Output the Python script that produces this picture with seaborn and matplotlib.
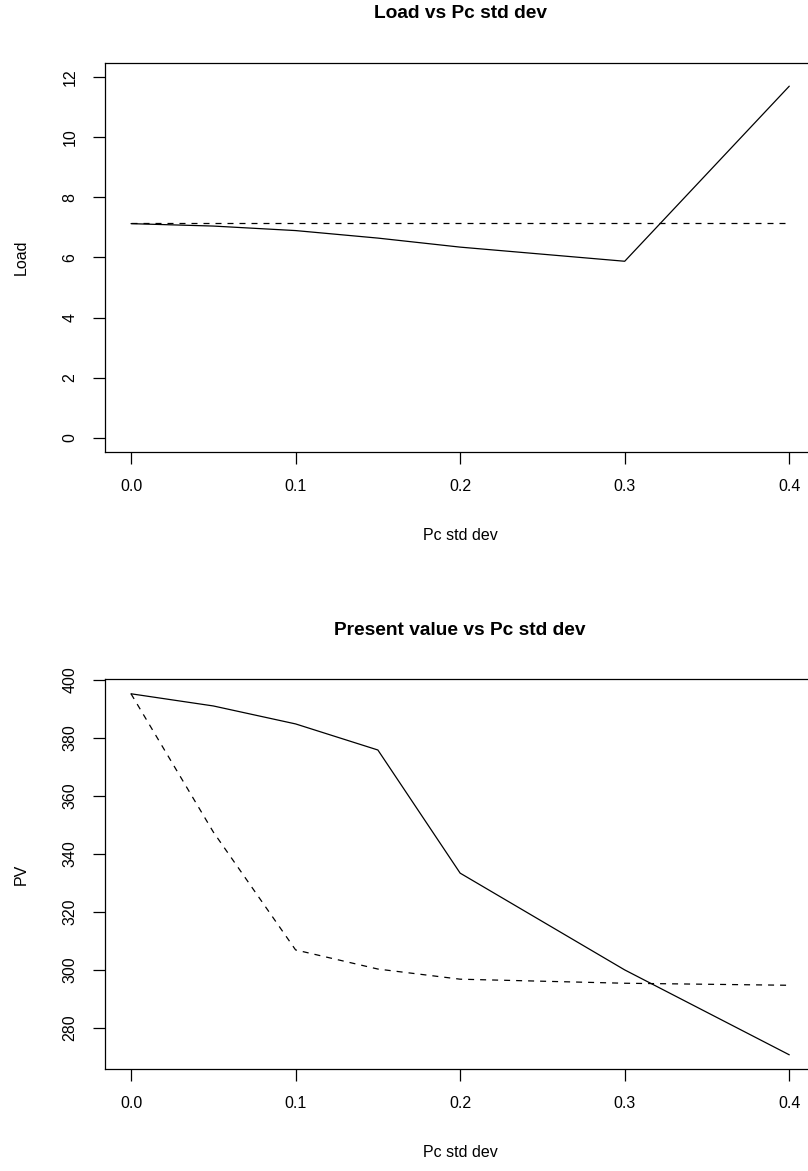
import numpy as np
import pandas as pd
import matplotlib
matplotlib.use("Agg")
import matplotlib.pyplot as plt
import seaborn as sns

# Pc standard deviation scenarios
pc_std = [0.0, 0.05, 0.10, 0.15, 0.20, 0.30, 0.40]

# Load: optimised vs. fixed
load_opt = [7.12, 7.04, 6.89, 6.64, 6.34, 5.87, 11.69]
load_fixed = [7.13, 7.13, 7.13, 7.13, 7.13, 7.13, 7.13]

# Present value: optimised vs. fixed
pv_opt = [395.2, 391.0, 384.8, 375.8, 333.3, 299.9, 270.6]
pv_fixed = [395.2, 347.5, 306.8, 300.2, 296.7, 295.3, 294.6]

x_ticks = [0.0, 0.1, 0.2, 0.3, 0.4]
x_ticklabels = ["0.0", "0.1", "0.2", "0.3", "0.4"]
load_ticks = [0, 2, 4, 6, 8, 10, 12]
pv_ticks = [280, 300, 320, 340, 360, 380, 400]

sns.set_theme(style="white")
plt.rcParams["font.family"] = ["Liberation Sans", "DejaVu Sans"]

W, H = 808, 1171
DPI = 100
fig = plt.figure(figsize=(W / DPI, H / DPI), dpi=DPI)

LEFT, RIGHT = 104.7, 815.6
PX2PT = 72.0 / DPI
FS = 11.5
LW = 0.9
DASH = (0, (4.8, 4.8))


def make_axes(top, bottom):
    return fig.add_axes([LEFT / W, 1 - bottom / H, (RIGHT - LEFT) / W, (bottom - top) / H])


def style_axes(ax, title, ylabel, yticks, ylim, top, bottom):
    h = bottom - top
    w = RIGHT - LEFT
    ax.set_xlim(-0.016, 0.416)
    ax.set_ylim(*ylim)
    ax.set_xticks(x_ticks)
    ax.set_xticklabels(x_ticklabels)
    ax.set_yticks(yticks)
    ax.set_yticklabels([str(v) for v in yticks], rotation=90, va="center")
    ax.tick_params(axis="both", direction="out", length=12 * PX2PT, width=LW,
                   color="black", labelsize=FS, labelcolor="black",
                   bottom=True, left=True)
    ax.tick_params(axis="x", pad=14.6 * PX2PT)
    ax.tick_params(axis="y", pad=15.0 * PX2PT)
    for s in ax.spines.values():
        s.set_visible(True)
        s.set_color("black")
        s.set_linewidth(LW)
    ax.grid(False)
    ax.set_xlabel("Pc std dev", fontsize=FS, color="black")
    ax.set_ylabel(ylabel, fontsize=FS, color="black")
    ax.xaxis.set_label_coords(0.5, -76 / h)
    ax.yaxis.set_label_coords(-(LEFT - 28.7) / w, 0.5)
    ax.text(0.5, 1 + 49 / h, title, transform=ax.transAxes, ha="center",
            va="center", fontsize=FS * 1.2, fontweight="bold", color="black")


# Upper panel: load
T1, B1 = 62.7, 452.3
ax1 = make_axes(T1, B1)
sns.lineplot(x=pc_std, y=load_opt, ax=ax1, color="black", linewidth=LW)
sns.lineplot(x=pc_std, y=load_fixed, ax=ax1, color="black", linewidth=LW, linestyle=DASH)
style_axes(ax1, "Load vs Pc std dev", "Load", load_ticks, (-0.48, 12.47), T1, B1)

# Lower panel: present value
T2, B2 = 679.3, 1069.3
ax2 = make_axes(T2, B2)
sns.lineplot(x=pc_std, y=pv_opt, ax=ax2, color="black", linewidth=LW)
sns.lineplot(x=pc_std, y=pv_fixed, ax=ax2, color="black", linewidth=LW, linestyle=DASH)
style_axes(ax2, "Present value vs Pc std dev", "PV", pv_ticks, (265.6, 400.2), T2, B2)

fig.savefig("out.png", dpi=DPI, facecolor="white")
